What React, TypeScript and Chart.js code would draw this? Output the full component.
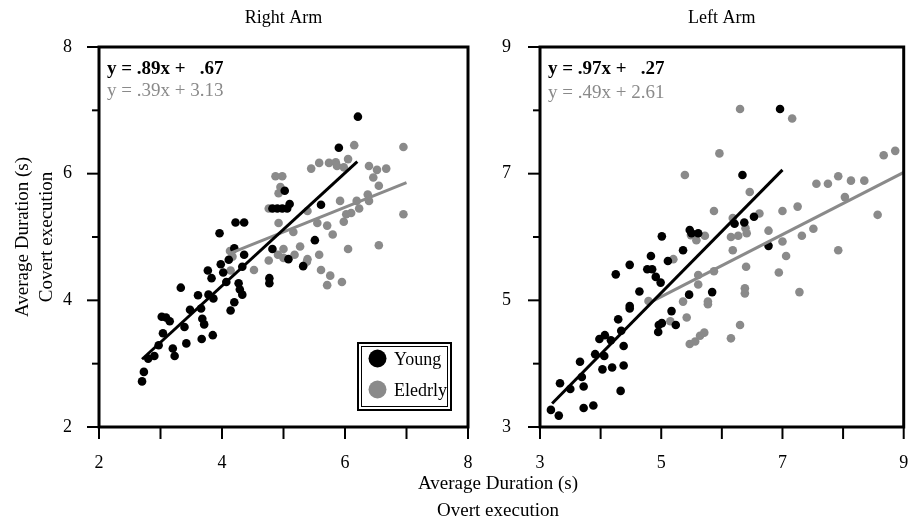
import React, { useEffect, useRef } from "react";
import { Chart, registerables } from "chart.js";

Chart.register(...registerables);

const FONT = '"Liberation Serif", "Times New Roman", Times, serif';
const BLACK = "#000000";
const GRAY = "#8a8a8a";

// ---------- Right Arm ----------
const rightYoungX = [2.70, 2.73, 2.80, 2.90, 2.97, 3.04, 3.02, 3.09, 3.15, 3.20, 3.23, 3.33, 3.39, 3.42, 3.48, 3.61, 3.66, 3.68, 3.71, 3.67, 3.77, 3.83, 3.78, 3.86, 3.85, 3.96, 3.98, 4.02, 4.07, 4.14, 4.20, 4.11, 4.20, 4.36, 4.33, 4.27, 4.29, 4.33, 4.77, 4.77, 4.82, 4.22, 4.36, 4.82, 4.90, 4.98, 6.21, 5.90, 5.02, 5.10, 5.06, 5.61, 5.51, 5.08, 5.32];
const rightYoungY = [2.72, 2.87, 3.08, 3.12, 3.29, 3.48, 3.74, 3.73, 3.67, 3.24, 3.12, 4.20, 3.58, 3.32, 3.85, 4.08, 3.87, 3.71, 3.62, 3.39, 4.47, 4.35, 4.09, 4.03, 3.45, 5.06, 4.57, 4.44, 4.29, 3.84, 3.97, 4.64, 4.82, 4.72, 4.53, 4.27, 4.17, 4.09, 4.35, 4.27, 4.81, 5.23, 5.23, 5.45, 5.45, 5.45, 6.90, 6.41, 5.73, 5.52, 5.45, 5.51, 4.95, 4.65, 4.54];
const rightElderX = [4.13, 4.17, 4.14, 4.52, 4.76, 4.91, 5.00, 5.00, 4.76, 4.87, 4.98, 4.95, 4.92, 4.92, 6.15, 6.95, 5.45, 5.58, 5.74, 5.85, 5.87, 5.98, 6.05, 6.39, 6.52, 6.67, 6.46, 6.55, 5.92, 6.19, 6.37, 6.39, 6.23, 6.10, 6.02, 5.98, 6.95, 5.39, 5.55, 5.71, 5.80, 5.16, 5.27, 6.05, 6.55, 5.18, 5.39, 5.38, 5.58, 5.61, 5.76, 5.95, 5.71];
const rightElderY = [4.78, 4.69, 4.47, 4.48, 4.63, 4.72, 4.81, 4.67, 5.45, 5.96, 5.96, 5.79, 5.69, 5.22, 6.45, 6.42, 6.08, 6.17, 6.17, 6.18, 6.12, 6.10, 6.23, 6.12, 6.06, 6.08, 5.94, 5.81, 5.57, 5.57, 5.67, 5.57, 5.45, 5.38, 5.36, 5.24, 5.36, 5.41, 5.22, 5.18, 5.04, 5.08, 4.85, 4.81, 4.87, 4.72, 4.65, 4.61, 4.72, 4.48, 4.39, 4.29, 4.24];
const rightYoungLineX = [2.7, 6.2];
const rightYoungLineY = [3.07, 6.19];
const rightElderLineX = [4.1, 7.0];
const rightElderLineY = [4.73, 5.86];

// ---------- Left Arm ----------
const leftYoungX = [3.18, 3.31, 3.33, 3.50, 3.72, 3.88, 3.72, 3.69, 3.66, 3.91, 4.03, 4.06, 3.98, 4.07, 4.17, 4.19, 4.33, 4.38, 4.38, 4.34, 4.29, 4.48, 4.48, 4.25, 4.48, 4.64, 4.77, 4.85, 4.83, 4.91, 4.99, 5.01, 5.11, 5.36, 5.47, 5.50, 5.61, 4.96, 5.01, 4.95, 5.17, 5.24, 5.46, 5.84, 6.96, 6.34, 6.53, 6.37, 6.21, 6.77];
const leftYoungY = [3.27, 3.18, 3.69, 3.60, 3.30, 3.34, 3.64, 3.79, 4.03, 4.15, 3.91, 4.12, 4.39, 4.45, 4.37, 3.94, 3.57, 3.97, 4.28, 4.52, 4.70, 4.91, 4.87, 5.41, 5.56, 5.14, 5.49, 5.49, 5.70, 5.37, 5.28, 6.01, 5.62, 5.79, 6.11, 6.06, 6.06, 4.61, 4.64, 4.50, 4.83, 4.61, 5.09, 5.13, 8.02, 6.98, 6.32, 6.23, 6.21, 5.86];
const leftElderX = [5.96, 5.39, 5.87, 5.49, 5.72, 5.58, 6.30, 7.16, 8.67, 8.86, 7.56, 7.75, 7.92, 8.13, 8.35, 6.46, 8.03, 7.25, 7.00, 6.62, 6.18, 6.39, 6.41, 6.15, 6.27, 6.77, 7.51, 7.32, 8.57, 7.00, 7.92, 6.18, 7.06, 6.40, 6.94, 6.38, 6.38, 7.28, 6.30, 6.15, 5.20, 4.79, 5.15, 5.36, 5.42, 5.61, 5.61, 5.77, 5.77, 5.87, 5.47, 5.56, 5.64, 5.71];
const leftElderY = [7.32, 6.98, 6.41, 6.03, 6.02, 5.95, 8.02, 7.87, 7.29, 7.36, 6.84, 6.84, 6.96, 6.89, 6.89, 6.71, 6.63, 6.48, 6.41, 6.37, 6.30, 6.14, 6.06, 6.00, 6.02, 6.10, 6.13, 6.02, 6.35, 5.93, 5.79, 5.79, 5.70, 5.53, 5.44, 5.19, 5.11, 5.13, 4.61, 4.40, 5.65, 4.99, 4.67, 4.98, 4.73, 5.40, 5.25, 4.98, 4.94, 5.46, 4.31, 4.35, 4.44, 4.49];
const leftYoungLineX = [3.2, 7.0];
const leftYoungLineY = [3.37, 7.06];
const leftElderLineX = [4.8, 9.0];
const leftElderLineY = [4.96, 7.02];

const toPts = (xs: number[], ys: number[]) => xs.map((x, i) => ({ x, y: ys[i] }));

type Cfg = {
  title: string;
  xMin: number; xMax: number; yMin: number; yMax: number;
  youngX: number[]; youngY: number[]; elderX: number[]; elderY: number[];
  yLineX: number[]; yLineY: number[]; eLineX: number[]; eLineY: number[];
  eqYoung: [string, string]; eqElder: string; eqBase2: number;
  padding: { left: number; right: number; top: number; bottom: number };
  yWidth: number; yLabelPad: number;
  legend: boolean; shared: boolean;
};

const decor = {
  id: "decor",
  afterDraw(chart: any, _args: any, opts: any) {
    const ctx = chart.ctx as CanvasRenderingContext2D;
    const a = chart.chartArea;
    const xs = chart.scales.x;
    const ys = chart.scales.y;
    ctx.save();
    // frame
    ctx.strokeStyle = BLACK;
    ctx.lineWidth = 3;
    ctx.strokeRect(a.left, a.top, a.right - a.left, a.bottom - a.top);
    // ticks
    ctx.lineWidth = 2;
    for (let v = ys.min; v <= ys.max + 1e-9; v++) {
      const p = ys.getPixelForValue(v);
      const len = Math.round(v - ys.min) % 2 === 0 ? 12 : 7;
      ctx.beginPath();
      ctx.moveTo(a.left - len, p);
      ctx.lineTo(a.left, p);
      ctx.stroke();
    }
    for (let v = xs.min; v <= xs.max + 1e-9; v++) {
      const p = xs.getPixelForValue(v);
      ctx.beginPath();
      ctx.moveTo(p, a.bottom);
      ctx.lineTo(p, a.bottom + 12);
      ctx.stroke();
    }
    // title
    ctx.fillStyle = BLACK;
    ctx.font = `18px ${FONT}`;
    ctx.textAlign = "center";
    ctx.textBaseline = "middle";
    ctx.fillText(opts.title, (a.left + a.right) / 2, 18);
    // equations
    const x0 = a.left + 8;
    ctx.textAlign = "left";
    ctx.textBaseline = "alphabetic";
    ctx.font = `19px ${FONT}`;
    const wGray = ctx.measureText(opts.eqElder).width;
    ctx.fillStyle = GRAY;
    ctx.fillText(opts.eqElder, x0, a.top + opts.eqBase2);
    ctx.font = `bold 19px ${FONT}`;
    ctx.fillStyle = BLACK;
    ctx.fillText(opts.eqYoung[0], x0, a.top + 26.5);
    ctx.textAlign = "right";
    ctx.fillText(opts.eqYoung[1], x0 + wGray, a.top + 26.5);
    // legend
    if (opts.legend) {
      const bx = a.right - 110, by = a.bottom - 84, bw = 93, bh = 67;
      ctx.lineWidth = 2;
      ctx.strokeRect(bx, by, bw, bh);
      ctx.lineWidth = 1;
      ctx.strokeRect(bx + 3.5, by + 3.5, bw - 7, bh - 7);
      ctx.fillStyle = BLACK;
      ctx.beginPath();
      ctx.arc(bx + 19.5, by + 15.5, 9, 0, Math.PI * 2);
      ctx.fill();
      ctx.fillStyle = GRAY;
      ctx.beginPath();
      ctx.arc(bx + 19.5, by + 46.5, 9, 0, Math.PI * 2);
      ctx.fill();
      ctx.fillStyle = BLACK;
      ctx.font = `18px ${FONT}`;
      ctx.textAlign = "left";
      ctx.textBaseline = "middle";
      ctx.fillText("Young", bx + 36, by + 17);
      ctx.fillText("Eledrly", bx + 36, by + 48);
    }
    // shared axis titles
    if (opts.shared) {
      ctx.fillStyle = BLACK;
      ctx.font = `19px ${FONT}`;
      ctx.textAlign = "center";
      ctx.textBaseline = "middle";
      ctx.fillText("Average Duration (s)", 498, 484);
      ctx.fillText("Overt execution", 498, 511);
      const cy = (a.top + a.bottom) / 2;
      ctx.save();
      ctx.translate(23, cy);
      ctx.rotate(-Math.PI / 2);
      ctx.fillText("Average Duration (s)", 0, 0);
      ctx.restore();
      ctx.save();
      ctx.translate(47, cy);
      ctx.rotate(-Math.PI / 2);
      ctx.fillText("Covert execution", 0, 0);
      ctx.restore();
    }
    ctx.restore();
  },
};

function ArmChart({ cfg }: { cfg: Cfg }) {
  const ref = useRef<HTMLCanvasElement>(null);
  useEffect(() => {
    const tickFont = { family: FONT, size: 18 };
    const chart = new Chart(ref.current as HTMLCanvasElement, {
      type: "scatter",
      data: {
        datasets: [
          {
            label: "Young fit",
            data: toPts(cfg.yLineX, cfg.yLineY),
            showLine: true,
            borderColor: BLACK,
            borderWidth: 3,
            pointRadius: 0,
            order: 0,
          } as any,
          {
            label: "Eledrly fit",
            data: toPts(cfg.eLineX, cfg.eLineY),
            showLine: true,
            borderColor: GRAY,
            borderWidth: 3,
            pointRadius: 0,
            order: 0,
          } as any,
          {
            label: "Young",
            data: toPts(cfg.youngX, cfg.youngY),
            backgroundColor: BLACK,
            borderWidth: 0,
            pointRadius: 4.3,
            order: 1,
          },
          {
            label: "Eledrly",
            data: toPts(cfg.elderX, cfg.elderY),
            backgroundColor: GRAY,
            borderWidth: 0,
            pointRadius: 4.3,
            order: 2,
          },
        ],
      },
      options: {
        animation: false,
        responsive: false,
        devicePixelRatio: 1,
        events: [],
        layout: { padding: cfg.padding },
        plugins: {
          legend: { display: false },
          tooltip: { enabled: false },
          title: { display: false },
          decor: {
            title: cfg.title,
            eqYoung: cfg.eqYoung,
            eqElder: cfg.eqElder,
            eqBase2: cfg.eqBase2,
            legend: cfg.legend,
            shared: cfg.shared,
          },
        } as any,
        scales: {
          x: {
            type: "linear",
            min: cfg.xMin,
            max: cfg.xMax,
            grid: { display: false },
            border: { display: false },
            ticks: {
              stepSize: 1,
              autoSkip: false,
              maxRotation: 0,
              padding: 17,
              color: BLACK,
              font: tickFont,
              callback: (v: any) => (Math.round(Number(v) - cfg.xMin) % 2 === 0 ? String(v) : ""),
            },
            afterFit: (s: any) => {
              s.height = 60;
              s.paddingLeft = 0;
              s.paddingRight = 0;
            },
          },
          y: {
            type: "linear",
            min: cfg.yMin,
            max: cfg.yMax,
            grid: { display: false },
            border: { display: false },
            ticks: {
              stepSize: 1,
              autoSkip: false,
              padding: cfg.yLabelPad,
              color: BLACK,
              font: tickFont,
              callback: (v: any) => (Math.round(Number(v) - cfg.yMin) % 2 === 0 ? String(v) : ""),
            },
            afterFit: (s: any) => {
              s.width = cfg.yWidth;
              s.paddingTop = 0;
              s.paddingBottom = 0;
            },
          },
        },
      },
      plugins: [decor],
    });
    return () => chart.destroy();
  }, []);
  return (
    <canvas
      ref={ref}
      width={908}
      height={521}
      style={{ position: "absolute", left: 0, top: 0, width: 908, height: 521 }}
    />
  );
}

const rightCfg: Cfg = {
  title: "Right Arm",
  xMin: 2, xMax: 8, yMin: 2, yMax: 8,
  youngX: rightYoungX, youngY: rightYoungY, elderX: rightElderX, elderY: rightElderY,
  yLineX: rightYoungLineX, yLineY: rightYoungLineY, eLineX: rightElderLineX, eLineY: rightElderLineY,
  eqYoung: ["y = .89x +", ".67"], eqElder: "y = .39x + 3.13", eqBase2: 49,
  padding: { left: 0, right: 440, top: 47, bottom: 34 },
  yWidth: 99, yLabelPad: 19,
  legend: true, shared: true,
};

const leftCfg: Cfg = {
  title: "Left Arm",
  xMin: 3, xMax: 9, yMin: 3, yMax: 9,
  youngX: leftYoungX, youngY: leftYoungY, elderX: leftElderX, elderY: leftElderY,
  yLineX: leftYoungLineX, yLineY: leftYoungLineY, eLineX: leftElderLineX, eLineY: leftElderLineY,
  eqYoung: ["y = .97x +", ".27"], eqElder: "y = .49x + 2.61", eqBase2: 51,
  padding: { left: 480, right: 2, top: 47, bottom: 34 },
  yWidth: 60, yLabelPad: 21,
  legend: false, shared: false,
};

export default function App() {
  return (
    <div
      style={{
        position: "fixed",
        left: 0,
        top: 0,
        width: 908,
        height: 521,
        overflow: "hidden",
        background: "#ffffff",
      }}
    >
      <ArmChart cfg={rightCfg} />
      <ArmChart cfg={leftCfg} />
    </div>
  );
}
